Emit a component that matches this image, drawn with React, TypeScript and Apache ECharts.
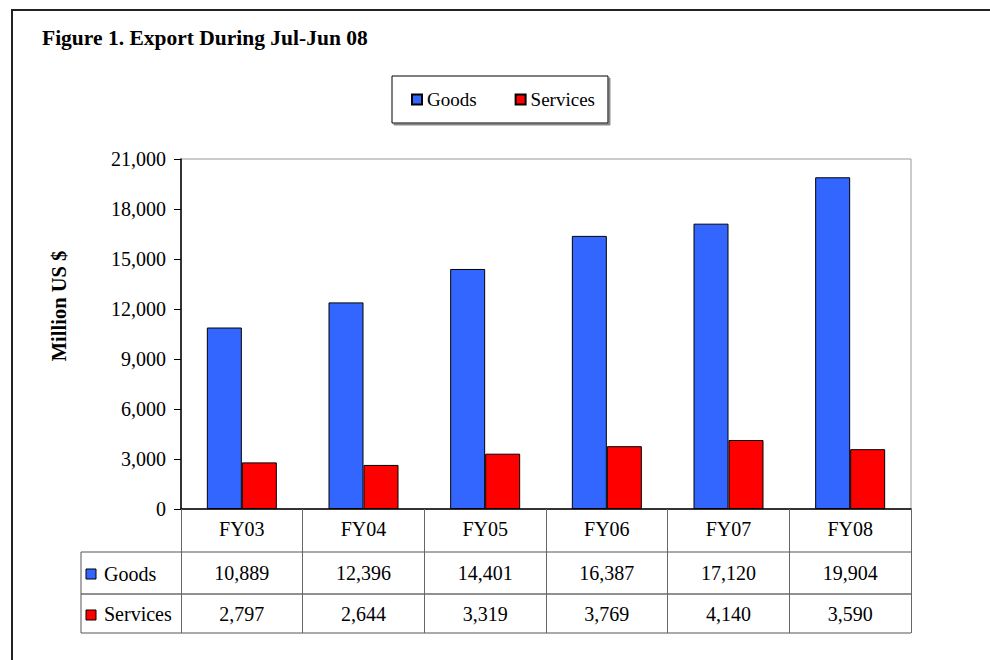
import React, { useEffect, useRef } from "react";
import * as echarts from "echarts";

const categories = ["FY03", "FY04", "FY05", "FY06", "FY07", "FY08"];
const goods = [10889, 12396, 14401, 16387, 17120, 19904];
const services = [2797, 2644, 3319, 3769, 4140, 3590];
const seriesNames = ["Goods", "Services"];
const colors = ["#3366FF", "#FF0000"];
const yMin = 0;
const yMax = 21000;
const yInterval = 3000;

const FONT = "Liberation Serif";
const fmt = (n: number) => n.toLocaleString("en-US");

export default function App() {
  const ref = useRef<HTMLDivElement>(null);
  useEffect(() => {
    if (!ref.current) return;
    const chart = echarts.init(ref.current, null, { renderer: "svg" });
    const gridLeft = 181;
    const gridTop = 159;
    const gridW = 730;
    const gridH = 350;
    const gridBottom = gridTop + gridH;
    const tableLeft = 81;
    const row1 = 552;
    const row2 = 594;
    const row3 = 633;
    const labelStyle = { fontFamily: FONT, fontSize: 20, color: "#000" };
    chart.setOption({
      animation: false,
      backgroundColor: "#fff",
      textStyle: { fontFamily: FONT },
      grid: {
        left: gridLeft,
        top: gridTop,
        width: gridW,
        height: gridH,
        show: true,
        borderColor: "#999",
        borderWidth: 1,
        containLabel: false,
      },
      legend: {
        data: seriesNames,
        left: 392,
        top: 76,
        orient: "horizontal",
        icon: "rect",
        itemWidth: 10,
        itemHeight: 10,
        itemGap: 38,
        padding: [14, 13, 14, 19],
        borderColor: "#000",
        borderWidth: 1,
        backgroundColor: "#fff",
        shadowColor: "#888",
        shadowOffsetX: 2,
        shadowOffsetY: 2,
        shadowBlur: 0,
        selectedMode: false,
        textStyle: { fontFamily: FONT, fontSize: 19, color: "#000" },
      },
      xAxis: [
        {
          type: "category",
          data: categories,
          position: "bottom",
          boundaryGap: true,
          axisLine: { show: true, lineStyle: { color: "#000", width: 1.5 } },
          axisTick: { show: true, length: row3 - gridBottom, lineStyle: { color: "#666" } },
          axisLabel: { ...labelStyle, margin: 10 },
        },
        {
          type: "category",
          data: goods.map(fmt),
          position: "bottom",
          offset: row1 - gridBottom,
          axisLine: { show: false },
          axisTick: { show: false },
          axisLabel: { ...labelStyle, margin: 11 },
        },
        {
          type: "category",
          data: services.map(fmt),
          position: "bottom",
          offset: row2 - gridBottom,
          axisLine: { show: false },
          axisTick: { show: false },
          axisLabel: { ...labelStyle, margin: 10 },
        },
      ],
      yAxis: {
        type: "value",
        min: yMin,
        max: yMax,
        interval: yInterval,
        axisLine: { show: true, lineStyle: { color: "#000", width: 1.5 } },
        axisTick: { show: true, length: 7, lineStyle: { color: "#000" } },
        splitLine: { show: false },
        axisLabel: { ...labelStyle, margin: 15, formatter: (v: number) => fmt(v) },
      },
      series: [
        {
          name: seriesNames[0],
          type: "bar",
          xAxisIndex: 0,
          data: goods,
          barWidth: 35,
          barGap: "0%",
          itemStyle: { color: colors[0], borderColor: "#000", borderWidth: 1 },
        },
        {
          name: seriesNames[1],
          type: "bar",
          xAxisIndex: 0,
          data: services,
          barWidth: 35,
          barGap: "0%",
          itemStyle: { color: colors[1], borderColor: "#000", borderWidth: 1 },
        },
      ],
      graphic: [
        {
          type: "rect",
          shape: { x: 12, y: 10, width: 1000, height: 700 },
          style: { fill: "none", stroke: "#222", lineWidth: 2 },
          silent: true,
        },
        {
          type: "text",
          x: 42,
          y: 38,
          style: {
            text: "Figure 1. Export During Jul-Jun 08",
            fontFamily: FONT,
            fontWeight: "bold",
            fontSize: 21.5,
            fill: "#000",
            align: "left",
            verticalAlign: "middle",
          },
        },
        {
          type: "text",
          x: 59,
          y: 306,
          rotation: Math.PI / 2,
          style: {
            text: "Million US $",
            fontFamily: FONT,
            fontWeight: "bold",
            fontSize: 20.5,
            fill: "#000",
            align: "center",
            verticalAlign: "middle",
          },
        },
        // table horizontal lines
        { type: "line", shape: { x1: tableLeft, y1: row1, x2: gridLeft + gridW, y2: row1 }, style: { stroke: "#555", lineWidth: 1 } },
        { type: "line", shape: { x1: tableLeft, y1: row2, x2: gridLeft + gridW, y2: row2 }, style: { stroke: "#222", lineWidth: 1 } },
        { type: "line", shape: { x1: tableLeft, y1: row3, x2: gridLeft + gridW, y2: row3 }, style: { stroke: "#555", lineWidth: 1 } },
        { type: "line", shape: { x1: tableLeft, y1: row1, x2: tableLeft, y2: row3 }, style: { stroke: "#555", lineWidth: 1 } },
        // row keys
        { type: "rect", shape: { x: 86, y: 569, width: 10, height: 10 }, style: { fill: colors[0], stroke: "#000", lineWidth: 1 } },
        {
          type: "text",
          x: 104,
          y: 574,
          style: { text: seriesNames[0], fontFamily: FONT, fontSize: 20, fill: "#000", align: "left", verticalAlign: "middle" },
        },
        { type: "rect", shape: { x: 86, y: 610, width: 10, height: 10 }, style: { fill: colors[1], stroke: "#000", lineWidth: 1 } },
        {
          type: "text",
          x: 104,
          y: 614,
          style: { text: seriesNames[1], fontFamily: FONT, fontSize: 20, fill: "#000", align: "left", verticalAlign: "middle" },
        },
      ],
    });
    return () => chart.dispose();
  }, []);
  return (
    <div
      ref={ref}
      style={{ position: "fixed", left: 0, top: 0, width: 990, height: 660 }}
    />
  );
}
